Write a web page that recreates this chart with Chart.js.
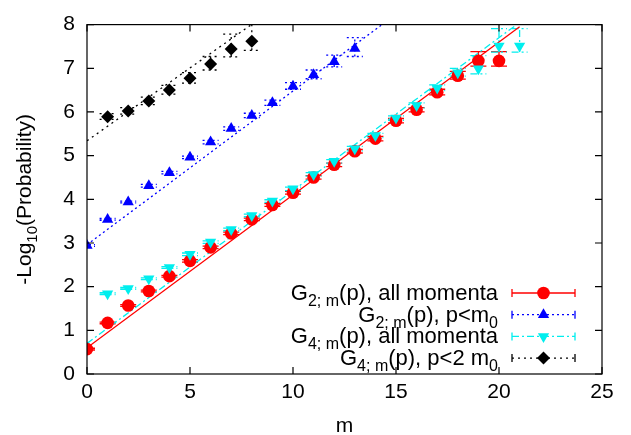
<!DOCTYPE html>
<html>
<head>
<meta charset="utf-8">
<script src="https://cdn.jsdelivr.net/npm/chart.js@4.4.1/dist/chart.umd.min.js"></script>
<style>
  html, body { margin: 0; padding: 0; background: #fff; }
  canvas { display: block; }
</style>
</head>
<body>
<canvas id="chart" width="631" height="435"></canvas>
<script>
// ticks
const xTicks = [0, 5, 10, 15, 20, 25];
const yTicks = [0, 1, 2, 3, 4, 5, 6, 7, 8];

// G2;m(p), all momenta
const mRed = [0, 1, 2, 3, 4, 5, 6, 7, 8, 9, 10, 11, 12, 13, 14, 15, 16, 17, 18, 19, 20];
const red = [0.57, 1.17, 1.57, 1.90, 2.24, 2.59, 2.90, 3.22, 3.54, 3.87, 4.15, 4.50, 4.79, 5.10, 5.39, 5.80, 6.05, 6.45, 6.83, 7.17, 7.17];
const redLo = [0.02, 0.02, 0.02, 0.02, 0.02, 0.03, 0.03, 0.03, 0.03, 0.03, 0.03, 0.04, 0.04, 0.04, 0.05, 0.05, 0.05, 0.06, 0.08, 0.12, 0.12];
const redHi = [0.02, 0.02, 0.02, 0.02, 0.02, 0.03, 0.03, 0.03, 0.03, 0.03, 0.03, 0.04, 0.04, 0.04, 0.05, 0.05, 0.05, 0.07, 0.10, 0.21, 0.21];

// G2;m(p), p<m0
const mBlue = [0, 1, 2, 3, 4, 5, 6, 7, 8, 9, 10, 11, 12, 13];
const blue = [2.94, 3.54, 3.94, 4.31, 4.61, 4.96, 5.31, 5.62, 5.92, 6.21, 6.59, 6.85, 7.15, 7.45];
const blueLo = [0.02, 0.02, 0.02, 0.03, 0.03, 0.03, 0.04, 0.04, 0.05, 0.06, 0.07, 0.09, 0.12, 0.18];
const blueHi = [0.02, 0.02, 0.02, 0.03, 0.03, 0.03, 0.04, 0.04, 0.05, 0.06, 0.08, 0.11, 0.15, 0.25];

// G4;m(p), all momenta
const mCyan = [1, 2, 3, 4, 5, 6, 7, 8, 9, 10, 11, 12, 13, 14, 15, 16, 17, 18, 19, 20, 21];
const cyan = [1.84, 1.96, 2.18, 2.44, 2.74, 3.02, 3.31, 3.63, 3.96, 4.24, 4.57, 4.87, 5.16, 5.46, 5.86, 6.15, 6.55, 6.90, 6.99, 7.51, 7.51];
const cyanLo = [0.02, 0.02, 0.02, 0.02, 0.03, 0.03, 0.03, 0.03, 0.03, 0.04, 0.04, 0.04, 0.05, 0.05, 0.05, 0.06, 0.06, 0.08, 0.12, 0.14, 0.14];
const cyanHi = [0.02, 0.02, 0.02, 0.02, 0.03, 0.03, 0.03, 0.03, 0.03, 0.04, 0.04, 0.04, 0.05, 0.05, 0.05, 0.06, 0.07, 0.10, 0.30, 0.40, 0.40];

// G4;m(p), p<2 m0
const mBlack = [1, 2, 3, 4, 5, 6, 7, 8];
const black = [5.89, 6.02, 6.25, 6.50, 6.77, 7.10, 7.44, 7.62];
const blackLo = [0.06, 0.07, 0.08, 0.09, 0.11, 0.14, 0.18, 0.21];
const blackHi = [0.07, 0.08, 0.09, 0.11, 0.13, 0.17, 0.34, 0.40];

// fit lines (start / end)
const redFitX = [0, 21],   redFitY = [0.60, 7.95];
const blueFitX = [0, 15],  blueFitY = [2.96, 8.24];
const cyanFitX = [0, 21],  cyanFitY = [0.70, 8.05];
const blackFitX = [0, 9],  blackFitY = [5.34, 8.34];

const legendLabels = [
  [['G', 0], ['2; m', 1], ['(p), all momenta', 0]],
  [['G', 0], ['2; m', 1], ['(p), p<m', 0], ['0', 1]],
  [['G', 0], ['4; m', 1], ['(p), all momenta', 0]],
  [['G', 0], ['4; m', 1], ['(p), p<2 m', 0], ['0', 1]]
];

const FONT = 'Liberation Sans, Arial, sans-serif';

function pts(xs, ys) {
  return xs.map((v, i) => ({ x: v, y: ys[i] }));
}

const series = [
  { data: pts(mRed, red), lo: redLo, hi: redHi, color: '#ff0000', dash: [], style: 'circle', rot: 0, r: 6.3, order: 4 },
  { data: pts(mBlue, blue), lo: blueLo, hi: blueHi, color: '#0000ff', dash: [2, 3], style: 'triangle', rot: 0, r: 6.5, order: 3 },
  { data: pts(mCyan, cyan), lo: cyanLo, hi: cyanHi, color: '#00eeee', dash: [7, 3, 2, 3], style: 'triangle', rot: 180, r: 6.5, order: 2 },
  { data: pts(mBlack, black), lo: blackLo, hi: blackHi, color: '#000000', dash: [2, 4], style: 'rectRot', rot: 0, r: 6.5, order: 1 }
];
const fits = [
  pts(redFitX, redFitY), pts(blueFitX, blueFitY), pts(cyanFitX, cyanFitY), pts(blackFitX, blackFitY)
];

const datasets = [];
series.forEach((s, i) => {
  datasets.push({
    type: 'line', data: fits[i], borderColor: s.color, borderWidth: 1.3,
    borderDash: s.dash, pointRadius: 0, showLine: true, fill: false, order: 10 + i
  });
});
series.forEach(s => {
  datasets.push({
    type: 'scatter', data: s.data, errLo: s.lo, errHi: s.hi, borderColor: s.color, backgroundColor: s.color,
    pointStyle: s.style, rotation: s.rot, pointRadius: s.r, pointBorderWidth: 0, barDash: s.dash,
    order: s.order
  });
});

// vertical error bars with caps
const errorBars = {
  id: 'errorBars',
  beforeDatasetsDraw(chart) {
    const { ctx, chartArea, scales: { x, y } } = chart;
    ctx.save();
    ctx.beginPath();
    ctx.rect(chartArea.left, chartArea.top, chartArea.right - chartArea.left, chartArea.bottom - chartArea.top);
    ctx.clip();
    chart.data.datasets.forEach(ds => {
      if (!ds.errLo) return;
      ctx.strokeStyle = ds.borderColor;
      ctx.lineWidth = 1.3;
      ctx.setLineDash(ds.barDash);
      ds.data.forEach((p, i) => {
        const px = x.getPixelForValue(p.x);
        const lo = y.getPixelForValue(p.y - ds.errLo[i]);
        const hi = y.getPixelForValue(p.y + ds.errHi[i]);
        ctx.beginPath();
        ctx.moveTo(px, lo); ctx.lineTo(px, hi);
        ctx.moveTo(px - 8, lo); ctx.lineTo(px + 8, lo);
        ctx.moveTo(px - 8, hi); ctx.lineTo(px + 8, hi);
        ctx.stroke();
      });
    });
    ctx.restore();
  }
};

function drawParts(ctx, parts, x, y, size, subSize, align) {
  const widths = parts.map(p => {
    ctx.font = (p[1] ? subSize : size) + 'px ' + FONT;
    return ctx.measureText(p[0]).width;
  });
  const total = widths.reduce((a, b) => a + b, 0);
  let cx = align === 'right' ? x - total : align === 'center' ? x - total / 2 : x;
  parts.forEach((p, i) => {
    ctx.font = (p[1] ? subSize : size) + 'px ' + FONT;
    ctx.fillText(p[0], cx, p[1] ? y + 6 : y);
    cx += widths[i];
  });
}

// frame, inner ticks, titles, key
const decor = {
  id: 'decor',
  afterDraw(chart) {
    const { ctx, chartArea: a, scales: { x, y } } = chart;
    ctx.save();
    ctx.strokeStyle = '#000';
    ctx.lineWidth = 1.2;
    ctx.setLineDash([]);
    ctx.strokeRect(a.left, a.top, a.right - a.left, a.bottom - a.top);
    ctx.beginPath();
    xTicks.forEach(v => {
      const px = x.getPixelForValue(v);
      ctx.moveTo(px, a.bottom); ctx.lineTo(px, a.bottom - 7);
      ctx.moveTo(px, a.top); ctx.lineTo(px, a.top + 7);
    });
    yTicks.forEach(v => {
      const py = y.getPixelForValue(v);
      ctx.moveTo(a.left, py); ctx.lineTo(a.left + 7, py);
      ctx.moveTo(a.right, py); ctx.lineTo(a.right - 7, py);
    });
    ctx.stroke();

    ctx.fillStyle = '#000';
    ctx.textBaseline = 'alphabetic';
    // x title
    ctx.font = '21px ' + FONT;
    ctx.textAlign = 'center';
    ctx.fillText('m', (a.left + a.right) / 2, 432);
    ctx.textAlign = 'left';
    // y title
    ctx.save();
    ctx.translate(31, (a.top + a.bottom) / 2);
    ctx.rotate(-Math.PI / 2);
    drawParts(ctx, [['-Log', 0], ['10', 1], ['(Probability)', 0]], 0, 0, 21, 15, 'center');
    ctx.restore();

    // key
    legendLabels.forEach((parts, i) => {
      const s = series[i];
      const rowY = 293 + i * 21.7;
      ctx.fillStyle = '#000';
      drawParts(ctx, parts, 498, rowY + 7, 22, 16, 'right');
      ctx.strokeStyle = s.color;
      ctx.lineWidth = 1.3;
      ctx.setLineDash(s.dash);
      ctx.beginPath();
      ctx.moveTo(512, rowY); ctx.lineTo(575, rowY);
      ctx.stroke();
      ctx.setLineDash([]);
      ctx.beginPath();
      ctx.moveTo(512, rowY - 4); ctx.lineTo(512, rowY + 4);
      ctx.moveTo(575, rowY - 4); ctx.lineTo(575, rowY + 4);
      ctx.stroke();
      ctx.fillStyle = s.color;
      Chart.helpers.drawPoint(ctx, { pointStyle: s.style, radius: s.r, rotation: s.rot, borderWidth: 0 }, 543.5, rowY);
    });
    ctx.restore();
  }
};

new Chart(document.getElementById('chart'), {
  type: 'scatter',
  data: { datasets: datasets },
  options: {
    responsive: false,
    animation: false,
    events: [],
    layout: { padding: { top: 16, right: 29, left: 0, bottom: 0 } },
    plugins: { legend: { display: false }, tooltip: { enabled: false } },
    scales: {
      x: {
        type: 'linear', min: 0, max: 25,
        grid: { display: false, drawTicks: false },
        border: { display: false },
        afterBuildTicks: s => { s.ticks = xTicks.map(v => ({ value: v })); },
        afterFit: s => { s.height = 61; },
        ticks: { padding: 6, color: '#000', maxRotation: 0, font: { family: FONT, size: 21 } }
      },
      y: {
        type: 'linear', min: 0, max: 8,
        grid: { display: false, drawTicks: false },
        border: { display: false },
        afterBuildTicks: s => { s.ticks = yTicks.map(v => ({ value: v })); },
        afterFit: s => { s.width = 87; },
        ticks: { padding: 12, color: '#000', font: { family: FONT, size: 21 } }
      }
    }
  },
  plugins: [errorBars, decor]
});
</script>
</body>
</html>
